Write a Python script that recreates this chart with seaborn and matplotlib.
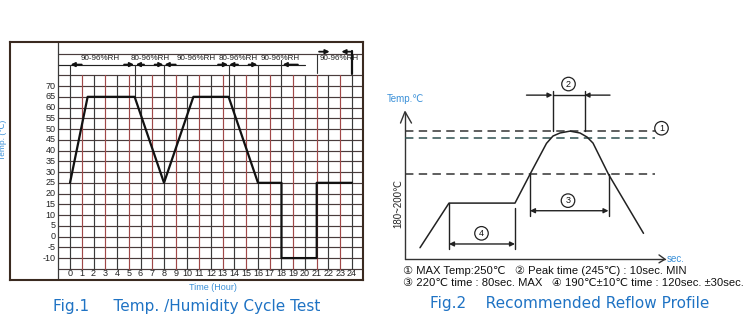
import numpy as np
import pandas as pd
import matplotlib
matplotlib.use('Agg')
import matplotlib.pyplot as plt
import seaborn as sns

# ---------------- Fig.1 data ----------------
cycle_hours = [0, 1.5, 5.5, 8, 10.5, 13.5, 16, 18, 18, 21, 21, 24]
cycle_temps = [25, 65, 65, 25, 65, 65, 25, 25, -10, -10, 25, 25]
hour_ticks = list(range(0, 25))
temp_ticks = list(range(70, -15, -5))
grid_temps = list(range(-15, 80, 5))
rh_labels = ['90-96%RH', '80-96%RH', '90-96%RH', '80-96%RH', '90-96%RH', '90-96%RH']
rh_label_hours = [2.55, 6.8, 10.7, 14.3, 17.9, 22.9]
# boundary ticks in the humidity band: (hour, top, bottom)
rh_ticks = [(0, 80, 75), (5.5, 80, 65), (8, 80, 75), (13.5, 80, 65),
            (16, 80, 75), (18, 82, 75), (21, 85, 76)]
# humidity arrows: (tail hour, head hour, level)
rh_arrows = [(1.0, 0.05, 80), (4.6, 5.45, 80), (6.3, 5.6, 80), (7.2, 7.95, 80),
             (9.0, 8.05, 80), (12.6, 13.45, 80), (14.3, 13.55, 80), (15.2, 15.95, 80),
             (19.4, 18.1, 80), (21.2, 22.1, 86), (24.0, 23.1, 86)]

# ---------------- Fig.2 data ----------------
reflow_time = [30, 88, 220, 250, 283, 296, 310, 330, 350, 364, 376, 407, 477]
reflow_temp = [169, 200, 200, 220, 241.5, 246.6, 248.7, 250, 248.7, 245.9, 241.7, 220, 179]
ref_levels = [250, 245, 220]
ref_colors = ['#333333', '#2f5050', '#333333']
notes = ['\u2460 MAX Temp:250\u2103   \u2461 Peak time (245\u2103) : 10sec. MIN',
         '\u2462 220\u2103 time : 80sec. MAX   \u2463 190\u2103\u00b110\u2103 time : 120sec. \u00b130sec.']

sns.set_theme(style='white')
plt.rcParams['font.family'] = ['Liberation Sans', 'DejaVu Sans', 'Noto Sans CJK JP']
title_family = ['DejaVu Sans', 'Noto Sans CJK JP']

W, H = 755, 335
fig = plt.figure(figsize=(W / 100, H / 100), dpi=100)
blue = '#1f73c4'
lblue = '#3a90d8'

# ======== Left chart ========
ax1 = fig.add_axes([10 / W, 1 - 280 / H, 353 / W, 238 / H])
x0, x1 = -5.11, 24.94
y0, y1 = -20.2, 90.5
hcol = '#4a3c3c'
vcol = '#a04848'
for t in grid_temps:
    ax1.plot([-1, x1], [t, t], color=hcol, lw=0.85, zorder=1)
ax1.plot([-1, x1], [85, 85], color=hcol, lw=0.85, zorder=1)
ax1.plot([-1, 20], [80, 80], color='#222222', lw=0.85, zorder=1)
for h in hour_ticks:
    ax1.plot([h, h], [-15, 75], color=vcol if h % 2 else '#3a3a3a', lw=0.85, zorder=1)
ax1.plot([-1, -1], [y0, y1], color='#3a3a3a', lw=0.9, zorder=1)
for h, a, b in rh_ticks:
    ax1.plot([h, h], [a, b], color='#333333', lw=0.8, zorder=2)
ax1.plot([24, 24], [86.5, 75.5], color='#111111', lw=1.6, zorder=2)

sns.lineplot(x=cycle_hours, y=cycle_temps, sort=False, estimator=None,
             color='#111111', lw=1.6, ax=ax1, zorder=3)

for lab, h in zip(rh_labels, rh_label_hours):
    ax1.text(h, 82.6, lab, ha='center', va='center', fontsize=5.8, color='#222222', zorder=4)
for tail, head, lev in rh_arrows:
    ax1.annotate('', xy=(head, lev), xytext=(tail, lev),
                 arrowprops=dict(arrowstyle='-|>', color='#111111', lw=1.3,
                                 mutation_scale=6, shrinkA=0, shrinkB=0), zorder=4)
for t in temp_ticks:
    ax1.text(-1.25, t, str(t), ha='right', va='center', fontsize=6.5, color='#222222')
for h in hour_ticks:
    ax1.text(h, -17.2, str(h), ha='center', va='center', fontsize=6.5, color='#222222')

ax1.set_xlim(x0, x1)
ax1.set_ylim(y0, y1)
ax1.set_xticks([])
ax1.set_yticks([])
ax1.set_xlabel('')
ax1.set_ylabel('')
for s in ax1.spines.values():
    s.set_color('#3a2a20')
    s.set_linewidth(1.5)

fig.text(3 / W, 1 - 140 / H, 'Temp. (\u2103)', rotation=90, ha='center', va='center',
         fontsize=6, color=lblue)
fig.text(213 / W, 1 - 288 / H, 'Time (Hour)', ha='center', va='center',
         fontsize=6.5, color=lblue)
fig.text(187 / W, 1 - 307 / H, 'Fig.1     Temp. /Humidity Cycle Test', ha='center',
         va='center', fontsize=11, color=blue, family=title_family)

# ======== Right chart ========
ax2 = fig.add_axes([380 / W, 1 - 265 / H, 375 / W, 205 / H])
ax2.set_xlim(-50, 700)
ax2.set_ylim(157, 299.4)
ax2.axis('off')

# axes with open arrow heads
ax2.plot([0, 0], [161, 263.5], color='#333333', lw=1.0)
ax2.plot([-9, 0, 13], [255.6, 263.5, 255.6], color='#333333', lw=1.0)
ax2.plot([0, 520], [161, 161], color='#333333', lw=1.0)
ax2.plot([508, 520, 508], [164, 161, 158.5], color='#333333', lw=1.0)

for lev, c in zip(ref_levels, ref_colors):
    ax2.plot([0, 500], [lev, lev], color=c, lw=1.1, dashes=(5.5, 3.5))

sns.lineplot(x=reflow_time, y=reflow_temp, sort=False, estimator=None,
             color='#222222', lw=1.1, ax=ax2)
ax2.set_xlabel('')
ax2.set_ylabel('')

dim_kw = dict(color='#222222', lw=1.0)
arr_kw = dict(arrowstyle='-|>', color='#222222', lw=1.0, mutation_scale=7,
              shrinkA=0, shrinkB=0)
# (2) peak time
ax2.plot([295, 295], [278, 250], **dim_kw)
ax2.plot([359, 359], [278, 250], **dim_kw)
ax2.annotate('', xy=(295, 275), xytext=(243, 275), arrowprops=arr_kw)
ax2.annotate('', xy=(359, 275), xytext=(410, 275), arrowprops=arr_kw)
ax2.plot([295, 359], [275, 275], **dim_kw)
# (3) time above 220
ax2.plot([250, 250], [220, 191], **dim_kw)
ax2.plot([407, 407], [220, 191], **dim_kw)
ax2.annotate('', xy=(250, 194.7), xytext=(407, 194.7),
             arrowprops=dict(arr_kw, arrowstyle='<|-|>'))
# (4) preheat
ax2.plot([88, 88], [200, 168], **dim_kw)
ax2.plot([220, 220], [196.6, 168], **dim_kw)
ax2.annotate('', xy=(88, 171.6), xytext=(220, 171.6),
             arrowprops=dict(arr_kw, arrowstyle='<|-|>'))

circ = dict(boxstyle='circle,pad=0.25', fc='white', ec='#222222', lw=0.9)
for lab, (t, v) in zip(['1', '2', '3', '4'],
                       [(513, 252), (327, 282.7), (326, 201.7), (153, 179)]):
    ax2.text(t, v, lab, ha='center', va='center', fontsize=6.5, bbox=circ, color='#111111')

ax2.text(0, 272.5, 'Temp.\u2103', ha='center', va='center', fontsize=7, color=lblue)
ax2.text(-14, 200, '180~200\u2103', rotation=90, ha='center', va='center',
         fontsize=7, color='#222222')
ax2.text(523, 161.5, 'sec.', ha='left', va='center', fontsize=7, color=lblue)

fig.text(403 / W, 1 - 270.7 / H, notes[0], ha='left', va='center', fontsize=8.1, color='#111111')
fig.text(403 / W, 1 - 283.5 / H, notes[1], ha='left', va='center', fontsize=8.1, color='#111111')
fig.text(570 / W, 1 - 303.5 / H, 'Fig.2    Recommended Reflow Profile', ha='center',
         va='center', fontsize=11, color=blue, family=title_family)

fig.savefig('out.png', dpi=100)
